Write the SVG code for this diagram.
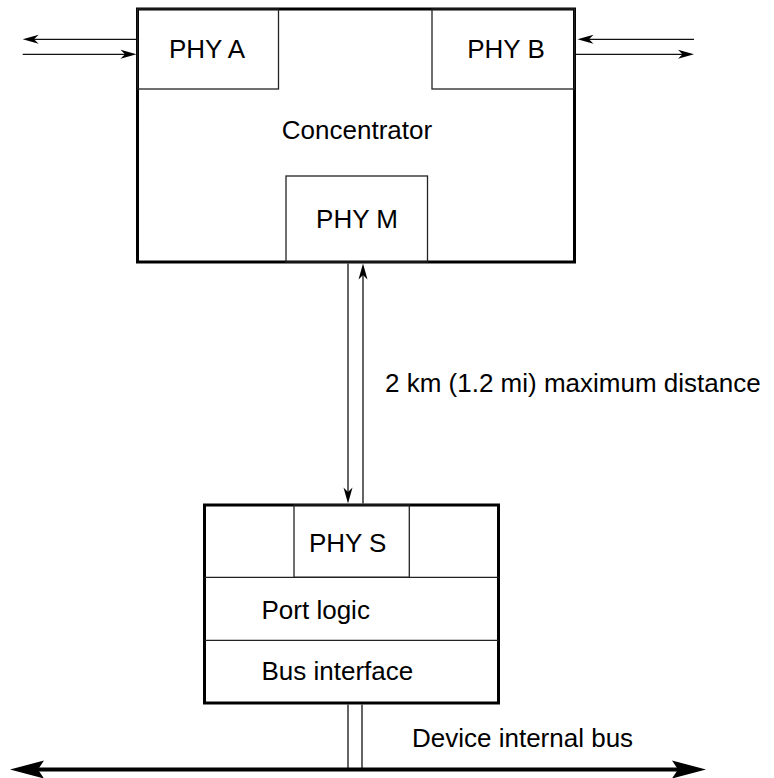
<svg xmlns="http://www.w3.org/2000/svg" width="774" height="778" viewBox="0 0 774 778">
<style>
.outer{fill:none;stroke:#000;stroke-width:3}
.inner{fill:none;stroke:#222;stroke-width:1.3}
.t{font-family:"Liberation Sans",Arial,sans-serif;font-size:26px;fill:#000}
.c{text-anchor:middle}
.ln{stroke:#111;stroke-width:1.3;fill:none}
.ah{fill:#000}
</style>
<rect width="774" height="778" fill="#fff"/>
<g id="concentrator">
<rect class="outer" x="137.5" y="9" width="437" height="253"/>
<text class="t c" x="357" y="139">Concentrator</text>
</g>
<g id="phy-a">
<rect class="inner" x="137.5" y="9" width="141" height="80"/>
<text class="t c" x="207" y="58">PHY A</text>
</g>
<g id="phy-b">
<rect class="inner" x="432" y="9" width="142.5" height="80"/>
<text class="t c" x="506" y="58">PHY B</text>
</g>
<g id="phy-m">
<rect class="inner" x="286" y="176" width="141.5" height="86"/>
<text class="t c" x="357" y="228">PHY M</text>
</g>
<g id="device">
<rect class="outer" x="204.5" y="505" width="294" height="198"/>
<line class="inner" x1="204.5" y1="577.3" x2="498.5" y2="577.3"/>
<line class="inner" x1="204.5" y1="640.3" x2="498.5" y2="640.3"/>
<text class="t" x="261.5" y="619">Port logic</text>
<text class="t" x="261.5" y="680">Bus interface</text>
</g>
<g id="phy-s">
<rect class="inner" x="294" y="505" width="115.3" height="72.3"/>
<text class="t c" x="347.7" y="552">PHY S</text>
</g>
<g id="connectors">
<line class="ln" x1="137" y1="39.3" x2="34" y2="39.3"/>
<polygon class="ah" points="22.7,39.3 38.7,34.8 34,39.3 38.7,43.8"/>
<line class="ln" x1="22.7" y1="54.3" x2="126" y2="54.3"/>
<polygon class="ah" points="136.5,54.3 120.5,49.8 125,54.3 120.5,58.8"/>
<line class="ln" x1="694" y1="39.3" x2="589" y2="39.3"/>
<polygon class="ah" points="577.5,39.3 593.5,34.8 589,39.3 593.5,43.8"/>
<line class="ln" x1="576" y1="54.3" x2="683" y2="54.3"/>
<polygon class="ah" points="694,54.3 678,49.8 682.5,54.3 678,58.8"/>
<line class="ln" x1="348" y1="263.5" x2="348" y2="492"/>
<polygon class="ah" points="348,503.5 343.5,487.5 348,492 352.5,487.5"/>
<line class="ln" x1="363" y1="275" x2="363" y2="503.5"/>
<polygon class="ah" points="363,263.5 358.5,279.5 363,275 367.5,279.5"/>
<line class="ln" x1="348" y1="704.5" x2="348" y2="768"/>
<line class="ln" x1="362" y1="704.5" x2="362" y2="768"/>
<line x1="36" y1="769.5" x2="683" y2="769.5" stroke="#000" stroke-width="4"/>
<polygon class="ah" points="10,769.5 44,760.5 38,769.5 44,778.5"/>
<polygon class="ah" points="706,769.5 672,760.5 678,769.5 672,778.5"/>
<text class="t" x="385" y="392">2 km (1.2 mi) maximum distance</text>
<text class="t" x="412" y="747">Device internal bus</text>
</g>
</svg>
